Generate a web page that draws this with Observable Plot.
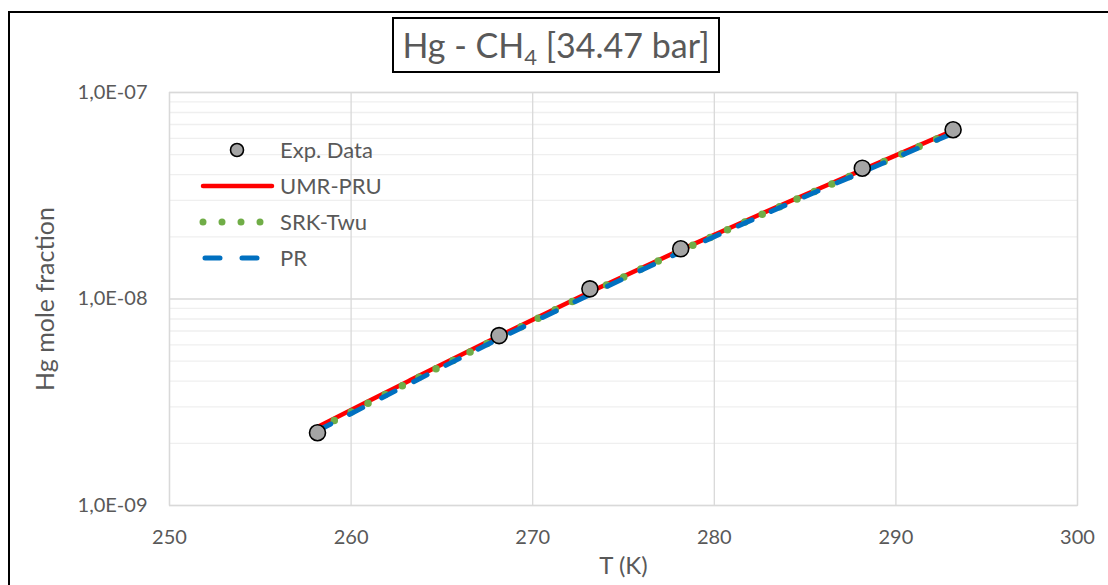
<!DOCTYPE html>
<html>
<head>
<meta charset="utf-8">
<script src="https://cdn.jsdelivr.net/npm/d3@7"></script>
<script src="https://cdn.jsdelivr.net/npm/@observablehq/plot@0.6"></script>
<style>
  html, body { margin: 0; padding: 0; background: #fff; overflow: hidden; }
  body { width: 1108px; height: 585px; position: relative; font-family: Lato, "Open Sans", sans-serif; color: #595959; }
  #frame { position: absolute; left: 8px; top: 11px; width: 1120px; height: 600px; border: 2px solid #000; box-sizing: border-box; }
  #chart { position: absolute; left: 0; top: 0; }
  #title { position: absolute; left: 392px; top: 17px; width: 328px; height: 56px; border: 2px solid #000; box-sizing: border-box; background: #fff;
           font-size: 34px; line-height: 52px; text-align: center; white-space: nowrap; }
  #title sub { font-size: 22px; vertical-align: -7px; line-height: 0; }
  #legend { position: absolute; left: 198px; top: 132px; font-size: 22px; }
  .item { position: relative; height: 36px; width: 260px; white-space: nowrap; }
  .item svg { position: absolute; left: 0; top: 0; }
  .item span { position: absolute; left: 82px; top: 4px; line-height: 28px; }
</style>
</head>
<body>
<div id="frame"></div>
<div id="chart"></div>
<div id="title">Hg - CH<sub>4</sub> [34.47 bar]</div>
<div id="legend"></div>
<script>
// Experimental data (T in K, Hg mole fraction)
const expT = [258.15, 268.15, 273.15, 278.15, 288.15, 293.15];
const expY = [2.25e-9, 6.65e-9, 1.12e-8, 1.75e-8, 4.3e-8, 6.6e-8];

// Model curves
const modelT = [258.15, 263.15, 268.15, 273.15, 278.15, 283.15, 288.15, 293.15];
const umrY   = [2.40e-9, 4.00e-9, 6.62e-9, 1.08e-8, 1.73e-8, 2.72e-8, 4.22e-8, 6.55e-8];
const srkY   = [2.34e-9, 3.93e-9, 6.50e-9, 1.07e-8, 1.71e-8, 2.69e-8, 4.17e-8, 6.45e-8];
const prY    = [2.30e-9, 3.86e-9, 6.42e-9, 1.05e-8, 1.69e-8, 2.66e-8, 4.12e-8, 6.35e-8];

const xTicks = [250, 260, 270, 280, 290, 300];
const yTicks = [1e-9, 1e-8, 1e-7];
const yTickLabels = ["1,0E-09", "1,0E-08", "1,0E-07"];
const seriesNames = ["Exp. Data", "UMR-PRU", "SRK-Twu", "PR"];

const exp = expT.map((t, i) => ({T: t, y: expY[i]}));
const umr = modelT.map((t, i) => ({T: t, y: umrY[i]}));
const srk = modelT.map((t, i) => ({T: t, y: srkY[i]}));
const pr  = modelT.map((t, i) => ({T: t, y: prY[i]}));

const minorY = d3.scaleLog().domain([1e-9, 1e-7]).ticks().filter(v => !yTicks.some(t => Math.abs(t - v) / t < 1e-6));
const fmtY = d => yTickLabels[yTicks.findIndex(t => Math.abs(t - d) / t < 1e-6)];

const plot = Plot.plot({
  width: 1108,
  height: 585,
  marginLeft: 169,
  marginRight: 31,
  marginTop: 92,
  marginBottom: 80,
  style: {fontFamily: "Lato, 'Open Sans', sans-serif", color: "#595959", background: "transparent", overflow: "visible"},
  x: {domain: [250, 300], label: null},
  y: {type: "log", domain: [1e-9, 1e-7], label: null},
  marks: [
    Plot.ruleY(minorY, {stroke: "#efefef", strokeWidth: 1.3}),
    Plot.ruleY(yTicks, {stroke: "#d9d9d9", strokeWidth: 1.3}),
    Plot.ruleX(xTicks, {stroke: "#d9d9d9", strokeWidth: 1.3}),
    Plot.frame({stroke: "#d9d9d9", strokeWidth: 1.3}),
    Plot.axisX({ticks: xTicks, tickSize: 0, tickPadding: 24, fontSize: 20, label: null}),
    Plot.axisY({ticks: yTicks, tickSize: 0, tickPadding: 22, fontSize: 20, label: null, tickFormat: fmtY}),
    Plot.line(umr, {x: "T", y: "y", stroke: "#ff0000", strokeWidth: 4.5, curve: "catmull-rom"}),
    Plot.line(srk, {x: "T", y: "y", stroke: "#70ad47", strokeWidth: 7.5, strokeDasharray: "0 19", strokeLinecap: "round", curve: "catmull-rom"}),
    Plot.line(pr, {x: "T", y: "y", stroke: "#0070c0", strokeWidth: 5, strokeDasharray: "15 21", strokeLinecap: "round", curve: "catmull-rom"}),
    Plot.dot(exp, {x: "T", y: "y", r: 8, fill: "#a5a5a5", stroke: "#000", strokeWidth: 1.6}),
    Plot.text(["T (K)"], {frameAnchor: "bottom", dy: 68, fontSize: 24, fill: "#595959"}),
    Plot.text(["Hg mole fraction"], {frameAnchor: "left", textAnchor: "middle", dx: -124, rotate: -90, fontSize: 25, fill: "#595959"})
  ]
});
document.getElementById("chart").appendChild(plot);

// Legend
const legend = document.getElementById("legend");
const swatches = [
  `<svg width="80" height="36"><circle cx="39" cy="18" r="6.5" fill="#a5a5a5" stroke="#000" stroke-width="1.6"/></svg>`,
  `<svg width="80" height="36"><line x1="5" x2="74" y1="18" y2="18" stroke="#ff0000" stroke-width="4.5" stroke-linecap="round"/></svg>`,
  `<svg width="80" height="36"><line x1="5" x2="74" y1="18" y2="18" stroke="#70ad47" stroke-width="7" stroke-dasharray="0 19" stroke-linecap="round"/></svg>`,
  `<svg width="80" height="36"><line x1="7" x2="74" y1="18" y2="18" stroke="#0070c0" stroke-width="5" stroke-dasharray="15 22" stroke-linecap="round"/></svg>`
];
seriesNames.forEach((name, i) => {
  const div = document.createElement("div");
  div.className = "item";
  div.innerHTML = swatches[i] + `<span>${name}</span>`;
  legend.appendChild(div);
});
</script>
</body>
</html>
